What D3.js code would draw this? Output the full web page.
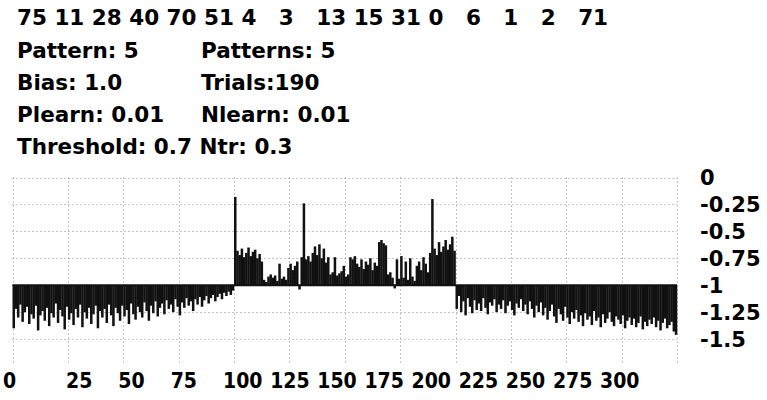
<!DOCTYPE html>
<html><head><meta charset="utf-8">
<script src="https://cdn.jsdelivr.net/npm/d3@7"></script>
<style>
html,body{margin:0;padding:0;background:#fff;}
svg{display:block;}
text{font-family:"DejaVu Sans",sans-serif;font-weight:bold;font-size:21.5px;fill:#000;white-space:pre;}
text.xl{font-size:22px;}
text.yl{font-size:21px;}
</style></head><body>
<svg id="chart" width="767" height="400"></svg>
<script>
const topNumbers = [75,11,28,40,70,51,4,3,13,15,31,0,6,1,2,71];
const infoLeft = ["Pattern: 5","Bias: 1.0","Plearn: 0.01","Threshold: 0.7 Ntr: 0.3"];
const infoRight = ["Patterns: 5","Trials:190","Nlearn: 0.01",""];
const xTicks = [0,25,50,75,100,125,150,175,200,225,250,275,300];
const yTicks = [0,-0.25,-0.5,-0.75,-1,-1.25,-1.5];
const baseline = -1;

const leftValues = [
-1.40,-1.22,-1.30,-1.18,-1.34,-1.25,-1.20,-1.36,-1.27,-1.31,
-1.19,-1.42,-1.28,-1.24,-1.33,-1.21,-1.38,-1.26,-1.30,-1.17,
-1.35,-1.23,-1.29,-1.41,-1.20,-1.32,-1.26,-1.37,-1.22,-1.30,
-1.18,-1.39,-1.25,-1.31,-1.21,-1.36,-1.27,-1.19,-1.40,-1.24,
-1.30,-1.22,-1.35,-1.18,-1.28,-1.38,-1.21,-1.26,-1.33,-1.19,
-1.29,-1.23,-1.36,-1.17,-1.27,-1.32,-1.20,-1.25,-1.30,-1.16,
-1.24,-1.33,-1.19,-1.26,-1.15,-1.29,-1.21,-1.17,-1.27,-1.14,
-1.22,-1.18,-1.25,-1.13,-1.20,-1.28,-1.16,-1.21,-1.12,-1.19,
-1.15,-1.24,-1.13,-1.18,-1.11,-1.20,-1.14,-1.10,-1.17,-1.12,
-1.09,-1.15,-1.11,-1.08,-1.13,-1.07,-1.10,-1.06,-1.09,-1.05];

const middleValues = [
-0.18,
-0.68,-0.72,-0.66,-0.74,-0.70,-0.65,-0.73,-0.69,-0.67,-0.75,-0.71,-0.78,
-0.95,-0.97,
-0.92,-0.90,-0.93,-0.91,-0.96,
-0.80,
-0.94,-0.92,-0.95,
-0.84,-0.80,-0.86,-0.82,-0.78,
-1.04,
-0.74,
-0.24,
-0.76,-0.73,-0.78,-0.70,-0.64,-0.72,-0.62,-0.75,-0.66,-0.79,-0.74,
-0.90,-0.88,-0.74,-0.91,-0.89,-0.87,-0.82,-0.92,-0.90,
-0.74,-0.76,-0.73,-0.80,
-0.83,-0.76,-0.85,-0.78,-0.81,-0.75,-0.86,-0.79,-0.82,
-0.60,-0.58,-0.61,-0.63,
-0.90,-0.88,-0.93,
-1.03,
-0.76,-0.94,-0.73,-0.93,-0.78,-0.95,-0.75,-0.92,-0.96,
-0.82,
-0.78,-0.86,-0.74,-0.80,
-0.88,-0.70,
-0.20,
-0.66,-0.72,-0.60,-0.69,-0.64,-0.58,-0.67,-0.62,-0.55,-0.68];

const rightValues = [
-1.22,-1.10,-1.25,-1.15,-1.28,-1.12,-1.20,-1.26,-1.14,-1.23,
-1.17,-1.24,-1.12,-1.21,-1.27,-1.16,-1.19,-1.13,-1.25,-1.18,
-1.22,-1.14,-1.26,-1.19,-1.15,-1.23,-1.28,-1.17,-1.21,-1.13,
-1.24,-1.18,-1.27,-1.15,-1.22,-1.30,-1.19,-1.25,-1.16,-1.28,
-1.21,-1.32,-1.24,-1.18,-1.29,-1.35,-1.22,-1.27,-1.33,-1.20,
-1.30,-1.36,-1.25,-1.31,-1.23,-1.34,-1.28,-1.38,-1.26,-1.32,
-1.29,-1.37,-1.24,-1.33,-1.30,-1.39,-1.27,-1.35,-1.31,-1.25,
-1.34,-1.38,-1.29,-1.32,-1.36,-1.28,-1.40,-1.33,-1.30,-1.37,
-1.31,-1.39,-1.35,-1.29,-1.41,-1.34,-1.38,-1.32,-1.36,-1.30,
-1.39,-1.33,-1.42,-1.35,-1.31,-1.40,-1.37,-1.34,-1.43,-1.46];

const values = leftValues.concat(middleValues, rightValues);

const svg = d3.select("#chart");
const x = d3.scaleLinear().domain([0, 300]).range([12.5, 677]);
const y = d3.scaleLinear().domain([-1.75, 0]).range([366, 177.5]);

// header text
const topRow = topNumbers.map((n, i) => {
  const s = String(n);
  if (i === topNumbers.length - 1) return s;
  return s.length === 1 ? s + "   " : s + " ";
}).join("");
svg.append("text").attr("x", 17).attr("y", 25).text(topRow);

const rowY = d3.scalePoint().domain(d3.range(infoLeft.length)).range([58, 154]);
svg.selectAll("text.info-l").data(infoLeft).join("text").attr("class","info-l")
  .attr("x", 17).attr("y", (d, i) => rowY(i)).text(d => d);
svg.selectAll("text.info-r").data(infoRight).join("text").attr("class","info-r")
  .attr("x", 201).attr("y", (d, i) => rowY(i)).text(d => d);

// grid
const grid = svg.append("g").attr("stroke", "#8a8a8a").attr("stroke-width", 1).attr("stroke-dasharray", "1,3");
grid.selectAll("line.v").data(xTicks).join("line").attr("class","v")
  .attr("x1", d => Math.round(x(d)) + 0.5).attr("x2", d => Math.round(x(d)) + 0.5)
  .attr("y1", y(0)).attr("y2", y(-1.72));
grid.selectAll("line.h").data(yTicks).join("line").attr("class","h")
  .attr("x1", x(0)).attr("x2", x(300))
  .attr("y1", d => Math.round(y(d)) + 0.5).attr("y2", d => Math.round(y(d)) + 0.5);

// bars
svg.append("g").attr("fill", "#111").selectAll("rect").data(values).join("rect")
  .attr("x", (d, i) => x(i))
  .attr("width", (d, i) => x(i + 1) - x(i) + 0.3)
  .attr("y", d => y(Math.max(d, baseline)))
  .attr("height", d => Math.abs(y(d) - y(baseline)));

svg.append("line").attr("x1", x(0)).attr("x2", x(300))
  .attr("y1", y(baseline)).attr("y2", y(baseline)).attr("stroke", "#111").attr("stroke-width", 2);

// y labels
svg.selectAll("text.yl").data(yTicks).join("text").attr("class","yl")
  .attr("x", 700).attr("y", d => y(d)).attr("dy", "0.36em").text(d => String(d));

// x labels (text slots along the bottom, not aligned to the grid)
const xl = d3.scaleLinear().domain([0, 25, 100, 300]).range([3, 66, 223, 600]);
svg.selectAll("text.xl").data(xTicks).join("text").attr("class","xl")
  .attr("x", d => xl(d)).attr("y", 388).text(d => String(d))
  .each(function() {
    const w = this.getComputedTextLength();
    d3.select(this).attr("textLength", w * 0.86).attr("lengthAdjust", "spacingAndGlyphs");
  });
</script>
</body></html>
